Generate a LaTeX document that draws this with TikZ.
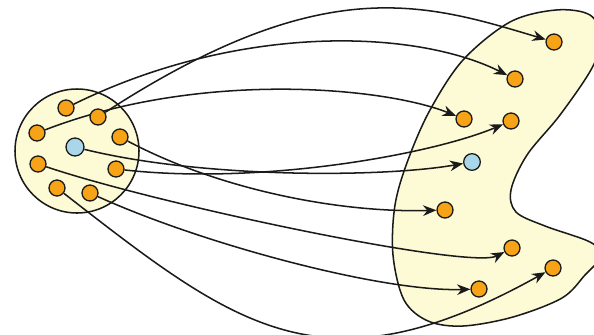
\documentclass[tikz,border=0pt]{standalone}
\usepackage{tikz}
\usetikzlibrary{arrows.meta}
\definecolor{ink}{HTML}{1A1A1A}
\definecolor{setfill}{HTML}{FDFBD6}
\definecolor{dotorange}{HTML}{F6A317}
\definecolor{dotblue}{HTML}{A9D7E9}
\pgfdeclarelayer{sets}
\pgfdeclarelayer{maps}
\pgfsetlayers{sets,maps,main}
\tikzset{
  setregion/.style={draw=ink,fill=setfill,line width=1.3pt},
  elem/.style={circle,draw=ink,fill=dotorange,line width=1.1pt,
               minimum size=4.8mm,inner sep=0pt},
  blueelem/.style={elem,fill=dotblue,minimum size=5.4mm},
  maparr/.style={-{Stealth[length=4mm,width=3.2mm]},line width=1.3pt,
                 draw=ink}
}

\begin{document}
\begin{tikzpicture}[x=0.03cm,y=-0.03cm]
    \useasboundingbox (0,0) rectangle (594,334);

    % the two sets
    \begin{pgfonlayer}{sets}
      \node[setregion,circle,minimum size=3.72cm] (dom) at (77,151) {};
      \draw[setregion] plot[smooth cycle,tension=0.55] coordinates {
        (585,275) (562,298) (513,317) (463,326) (428,321) (404,300)
        (393,255) (395,205) (408,160) (430,110) (463,60) (510,22)
        (556,10) (590,15) (601,38) (592,68) (560,115) (527,155)
        (511,190) (516,212) (545,226) (590,242) (601,256)};
    \end{pgfonlayer}

    % elements on the left
    \node[elem] (s1) at (66,108) {};
    \node[elem] (s2) at (98,117) {};
    \node[elem] (s3) at (37,133) {};
    \node[elem] (s4) at (120,137) {};
    \node[blueelem] (s0) at (75,147) {};
    \node[elem] (s5) at (38,164) {};
    \node[elem] (s6) at (116,169) {};
    \node[elem] (s7) at (57,188) {};
    \node[elem] (s8) at (90,193) {};

    % elements on the right
    \node[elem] (t1) at (554,42) {};
    \node[elem] (t2) at (515,79) {};
    \node[elem] (t3) at (464,119) {};
    \node[elem] (t4) at (511,121) {};
    \node[blueelem,minimum size=5mm] (t0) at (472,162) {};
    \node[elem] (t5) at (445,210) {};
    \node[elem] (t6) at (512,248) {};
    \node[elem] (t7) at (553,268) {};
    \node[elem] (t8) at (479,289) {};

    \begin{pgfonlayer}{maps}
      \draw[maparr] (s2) .. controls (323,-29) and (424,3) .. (t1);
      \draw[maparr] (s1) .. controls (239,23) and (415,29) .. (t2);
      \draw[maparr] (s3) .. controls (200,70) and (384,87) .. (t3);
      \draw[maparr] (s4) .. controls (220,190) and (340,213) .. (t5);
      \draw[maparr] (s0) .. controls (200,178) and (380,178) .. (t0);
      \draw[maparr] (s6) .. controls (260,185) and (430,155) .. (t4);
      \draw[maparr] (s5) .. controls (160,205) and (470,270) .. (t6);
      \draw[maparr] (s8) .. controls (200,243) and (380,292) .. (t8);
      \draw[maparr] (s7) .. controls (237,328) and (323,396) .. (t7);
    \end{pgfonlayer}
  \end{tikzpicture}
\end{document}
